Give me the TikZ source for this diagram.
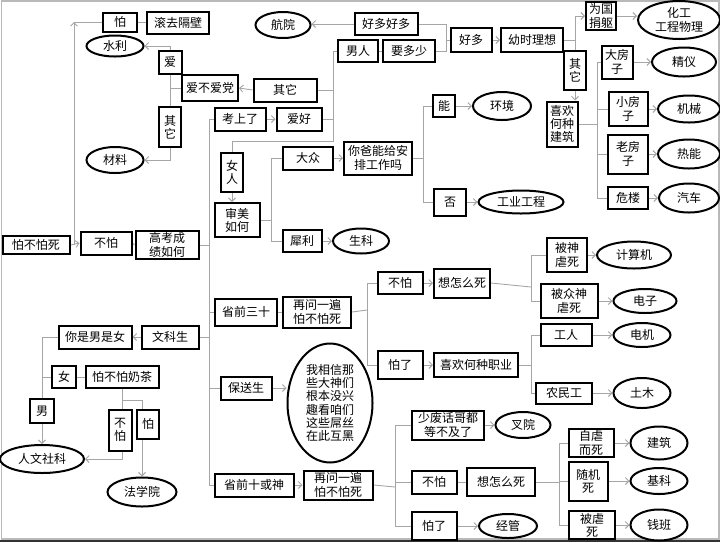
\documentclass[tikz,border=0pt]{standalone}
\usepackage{fontspec}
\newfontfamily\cjk{Noto Sans CJK SC}
\usetikzlibrary{arrows.meta,shapes.geometric,backgrounds}

\begin{document}
\begin{tikzpicture}[x=1pt, y=-1pt,
  every node/.style={font=\cjk\fontsize{12}{13.2}\selectfont},
  box/.style={draw=black, line width=2pt, fill=white, inner sep=0pt, align=center},
  oval/.style={ellipse, draw=black, line width=2pt, fill=white, inner sep=0pt, align=center},
  sz/.style 2 args={minimum width=#1, minimum height=#2},
  conn/.style={draw=gray!70, line width=0.9pt},
  >={Straight Barb[length=3.5pt,width=7pt]}]
\useasboundingbox (0,0) rectangle (720,542);
% frame of the screenshot
\draw[gray!55, line width=1.2pt] (1.5,1) rectangle (719,539);
\draw[gray!40!black, line width=2pt] (0,541) -- (720,541);

% left root and the upper-left corner
\node[box, sz={67}{18}] (pbps) at (36,245) {怕不怕死};
\node[box, sz={51}{23}] (bupa1) at (106,243) {不怕};
\node[box, sz={63}{28}] (gaokao) at (167,245) {高考成\\绩如何};
\node[box, sz={34}{19}] (pa1) at (120,22) {怕};
\node[box, sz={62}{22}] (gunqu) at (178,23) {滚去隔壁};
\node[oval, sz={57}{21}] (shuili) at (115,46) {水利};
\node[box, sz={23}{23}] (ai) at (170,62) {爱};
\node[box, sz={56}{26}] (aidang) at (210,88) {爱不爱党};
\node[box, sz={22}{40}] (qitaL) at (170,127) {其\\它};
\node[oval, sz={57}{26}] (cailiao) at (115,160) {材料};

% upper branch
\node[box, sz={63}{23}] (qitaM) at (285,90) {其它};
\node[box, sz={51}{23}] (kaoshang) at (240,119) {考上了};
\node[box, sz={45}{23}] (aihao) at (299,119) {爱好};
\node[oval, sz={55}{26}] (hangyuan) at (283,25) {航院};
\node[box, sz={63}{22}] (hdhd) at (386,24) {好多好多};
\node[box, sz={40}{22}] (nanren) at (358,51) {男人};
\node[box, sz={52}{22}] (yaoduoshao) at (409,51) {要多少};
\node[box, sz={41}{24}] (haoduo) at (471,40) {好多};
\node[box, sz={62}{24}] (youshi) at (532,40) {幼时理想};
\node[box, sz={30}{28}] (weiguo) at (601,16) {为国\\捐躯};
\node[oval, sz={82}{38}] (huagong) at (679,20) {化工\\工程物理};
\node[box, sz={22}{39}] (qitaR) at (575,70) {其\\它};
\node[box, sz={31}{45}] (xihuanjz) at (562,124) {喜欢\\何种\\建筑};
\node[box, sz={31}{33}] (dafang) at (617,62) {大房\\子};
\node[oval, sz={64}{29}] (jingyi) at (684,62) {精仪};
\node[box, sz={39}{34}] (xiaofang) at (628,109) {小房\\子};
\node[oval, sz={62}{27}] (jixie) at (689,109) {机械};
\node[box, sz={40}{39}] (laofang) at (628,154) {老房\\子};
\node[oval, sz={62}{29}] (reneng) at (689,154) {热能};
\node[box, sz={40}{22}] (weilou) at (628,198) {危楼};
\node[oval, sz={60}{29}] (qiche) at (689,198) {汽车};

% women branch
\node[box, sz={22}{39}] (nvren) at (232,172) {女\\人};
\node[box, sz={45}{34}] (shenmei) at (237,220) {审美\\如何};
\node[box, sz={50}{23}] (dazhong) at (308,158) {大众};
\node[box, sz={68}{33}] (nibaba) at (378,158) {你爸能给安\\排工作吗};
\node[box, sz={22}{22}] (neng) at (444,106) {能};
\node[oval, sz={58}{28}] (huanjing) at (502,106) {环境};
\node[box, sz={32}{27}] (fou) at (450,202) {否};
\node[oval, sz={85}{23}] (gongye) at (521,202) {工业工程};
\node[box, sz={39}{22}] (xili) at (302,241) {犀利};
\node[oval, sz={56}{25}] (shengke) at (361,241) {生科};

% top thirty
\node[box, sz={62}{27}] (sq30) at (246,312) {省前三十};
\node[box, sz={68}{31}] (zaiwen1) at (317,312) {再问一遍\\怕不怕死};
\node[box, sz={45}{22}] (bupa2) at (400,283) {不怕};
\node[box, sz={56}{29}] (xiangsi1) at (462,283) {想怎么死};
\node[box, sz={40}{34}] (beishen) at (567,255) {被神\\虐死};
\node[oval, sz={74}{27}] (jisuanji) at (634,255) {计算机};
\node[box, sz={57}{34}] (beizhong) at (569,301) {被众神\\虐死};
\node[oval, sz={63}{24}] (dianzi) at (645,301) {电子};
\node[box, sz={45}{28}] (pale1) at (400,365) {怕了};
\node[box, sz={84}{24}] (xihuanzy) at (476,365) {喜欢何种职业};
\node[box, sz={51}{22}] (gongren) at (566,335) {工人};
\node[oval, sz={57}{24}] (dianji) at (642,335) {电机};
\node[box, sz={56}{21}] (nongmin) at (564,393) {农民工};
\node[oval, sz={57}{30}] (tumu) at (642,393) {土木};

% recommended students
\node[box, sz={51}{23}] (baosong) at (246,388) {保送生};
\node[oval, sz={85}{119}] (hulei) at (330,403)
  {我相信那\\些大神们\\根本没兴\\趣看咱们\\这些屌丝\\在此互黑};

% top ten
\node[box, sz={79}{23}] (sq10) at (254,485) {省前十或神};
\node[box, sz={69}{29}] (zaiwen2) at (338,485) {再问一遍\\怕不怕死};
\node[box, sz={72}{29}] (shaofei) at (448,425) {少废话哥都\\等不及了};
\node[oval, sz={55}{26}] (chayuan) at (523,425) {叉院};
\node[box, sz={45}{23}] (bupa3) at (434,482) {不怕};
\node[box, sz={68}{28}] (xiangsi2) at (501,482) {想怎么死};
\node[box, sz={45}{28}] (zinue) at (591,443) {自虐\\而死};
\node[oval, sz={57}{33}] (jianzhu) at (659,443) {建筑};
\node[box, sz={39}{39}] (suiji) at (588,481) {随机\\死};
\node[oval, sz={57}{26}] (jike) at (659,481) {基科};
\node[box, sz={46}{28}] (beinue) at (592,525) {被虐\\死};
\node[oval, sz={57}{31}] (qianban) at (659,525) {钱班};
\node[box, sz={45}{28}] (pale3) at (434,526) {怕了};
\node[oval, sz={58}{24}] (jingguan) at (508,526) {经管};

% arts students
\node[box, sz={57}{23}] (wenke) at (170,337) {文科生};
\node[box, sz={73}{23}] (nanv) at (95,337) {你是男是女};
\node[box, sz={24}{22}] (nv) at (64,377) {女};
\node[box, sz={73}{22}] (naicha) at (122,377) {怕不怕奶茶};
\node[box, sz={24}{24}] (nan) at (42,411) {男};
\node[box, sz={23}{41}] (bupa4) at (120,430) {不\\怕};
\node[box, sz={22}{29}] (pa4) at (148,424) {怕};
\node[oval, sz={84}{28}] (renwen) at (42,459) {人文社科};
\node[oval, sz={69}{29}] (faxue) at (142,492) {法学院};

% junction points
\coordinate (c1) at (74,22);
\coordinate (tk) at (209,245);
\coordinate (ah) at (333,119);
\coordinate (yd) at (446,40);
\coordinate (ys) at (575,40);
\coordinate (jz) at (597,124);
\coordinate (sm) at (271,220);
\coordinate (nb) at (423,158);
\coordinate (zw1) at (367,310);
\coordinate (xs1) at (531,287);
\coordinate (zy) at (531,365);
\coordinate (zw2) at (395,487);
\coordinate (xs2) at (559,482);
\coordinate (nc) at (122,400);

\begin{scope}[on background layer]
% root
\draw[conn,->] (pbps.east) -- (bupa1.west);
\draw[conn,->] (c1 |- pbps.east) -- (c1);
\draw[conn] (c1) -- (pa1.west);
\draw[conn] (pa1.east) -- (pa1.east -| gunqu.west);
\draw[conn] (bupa1.east) -- (gaokao.west);
% main trunk
\draw[conn] (gaokao.east) -- (tk);
\foreach \n in {kaoshang,sq30,baosong,sq10}
  \draw[conn] (tk) |- (\n.west);
\draw[conn] (tk) |- (wenke.east);
% passed the exam
\draw[conn,->] (kaoshang) -- (aihao);
\draw[conn] (aihao.east) -- (ah);
\draw[conn] (ah) |- (nanren.west);
\draw[conn] (ah) |- (qitaM.east);
\draw[conn] (ah) -- ++(0,22) -| (nvren.north);
\draw[conn,->] (qitaM.west) -- (aidang.east);
\draw[conn,->] (aidang.west) -- (aidang.west -| ai) |- (shuili.east);
\draw[conn,->] (aidang.west -| ai) |- (cailiao.east);
% men
\draw[conn] (nanren) -- (yaoduoshao);
\draw[conn] (yaoduoshao.east) -| (yd);
\draw[conn] (yd) |- (hdhd.east);
\draw[conn,->] (hdhd.west) -- (hdhd.west -| hangyuan.east);
\draw[conn] (yd) -- (haoduo.west);
\draw[conn,->] (haoduo) -- (youshi);
\draw[conn] (youshi.east) -- (ys);
\draw[conn,->] (ys) |- (weiguo.west);
\draw[conn,->] (ys) -- (ys |- xihuanjz.north);
\draw[conn,->] (weiguo.east) -- (weiguo.east -| huagong.west);
\draw[conn] (xihuanjz.east) -- (jz);
\foreach \n in {dafang,xiaofang,laofang,weilou}
  \draw[conn] (jz) |- (\n.west);
\foreach \a/\b in {dafang/jingyi,xiaofang/jixie,laofang/reneng,weilou/qiche}
  \draw[conn,->] (\a) -- (\b);
% women
\draw[conn,->] (nvren.south) -- (nvren.south |- shenmei.north);
\draw[conn] (shenmei.east) -- (sm);
\draw[conn] (sm) |- (dazhong.west);
\draw[conn] (sm) |- (xili.west);
\draw[conn,->] (dazhong) -- (nibaba);
\draw[conn,->] (xili) -- (shengke);
\draw[conn] (nibaba.east) -- (nb);
\draw[conn] (nb) |- (neng.west);
\draw[conn] (nb) |- (fou.west);
\draw[conn,->] (neng) -- (huanjing);
\draw[conn,->] (fou) -- (gongye);
% top thirty
\draw[conn] (sq30) -- (zaiwen1);
\draw[conn] (zaiwen1.east) -- (zw1);
\draw[conn] (zw1) |- (bupa2.west);
\draw[conn,->] (zw1) |- (xihuanzy.west);
\draw[conn,->] (bupa2) -- (xiangsi1);
\draw[conn] (xiangsi1.east) -- (xs1);
\draw[conn] (xs1) |- (beishen.west);
\draw[conn] (xs1) |- (beizhong.west);
\draw[conn,->] (beishen) -- (jisuanji);
\draw[conn,->] (beizhong) -- (dianzi);
\draw[conn] (xihuanzy.east) -- (zy);
\draw[conn] (zy) |- (gongren.west);
\draw[conn] (zy) |- (nongmin.west);
\draw[conn,->] (gongren) -- (dianji);
\draw[conn,->] (nongmin) -- (tumu);
% recommended
\draw[conn,->] (baosong.east) -- (baosong.east -| hulei.west);
% top ten
\draw[conn,->] (sq10) -- (zaiwen2);
\draw[conn] (zaiwen2.east) -- (zw2);
\foreach \n in {shaofei,bupa3,pale3}
  \draw[conn] (zw2) |- (\n.west);
\draw[conn,->] (shaofei) -- (chayuan);
\draw[conn] (bupa3) -- (xiangsi2);
\draw[conn] (xiangsi2.east) -- (xs2);
\foreach \n in {zinue,suiji,beinue}
  \draw[conn] (xs2) |- (\n.west);
\foreach \a/\b in {zinue/jianzhu,suiji/jike,beinue/qianban,pale3/jingguan}
  \draw[conn,->] (\a) -- (\b);
% arts
\draw[conn,->] (wenke) -- (nanv);
\draw[conn,->] (nanv.west) -| (renwen.north);
\draw[conn] (nanv.west -| nan) |- (nv.west);
\draw[conn] (nv) -- (naicha);
\draw[conn,->] (naicha.south) -- (nc) -| (faxue.north);
\draw[conn,->] (naicha.south) |- (renwen.east);
\end{scope}
\end{tikzpicture}
\end{document}
